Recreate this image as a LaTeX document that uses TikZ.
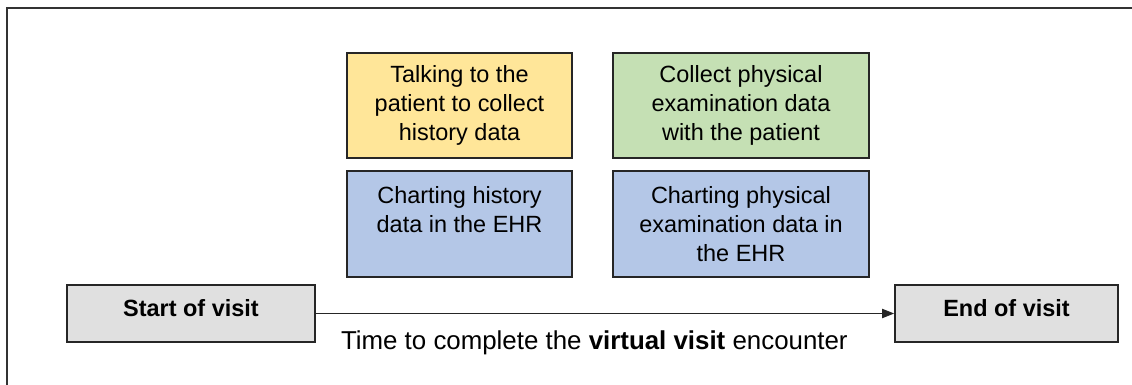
\documentclass[tikz,border=0pt]{standalone}
\usepackage{fontspec}
\setmainfont{Liberation Sans}
\usepackage{xcolor}
\usepackage{tikz}
\usetikzlibrary{arrows.meta}
\tikzset{
	taskbox/.style = {draw=black!85, line width=1.3pt, align=center, inner sep=0pt, text centered, font=\fontsize{17.6}{21.75}\selectfont},
	history/.style = {taskbox, fill=histyellow, minimum width=168.75pt, minimum height=78.75pt},
	physical/.style = {taskbox, fill=physgreen, minimum width=192pt, minimum height=78.75pt},
	charting/.style = {taskbox, fill=chartblue, minimum height=79.5pt},
	visit/.style = {taskbox, fill=visitgray, minimum height=42.75pt, text height=13pt, text depth=8.4pt, font=\fontsize{17.6}{21.75}\selectfont\bfseries},
}
\definecolor{histyellow}{HTML}{FFE699}
\definecolor{physgreen}{HTML}{C5E0B4}
\definecolor{chartblue}{HTML}{B4C7E7}
\definecolor{visitgray}{HTML}{E0E0E0}

\begin{document}
\begin{tikzpicture}[x=0.75pt, y=-0.75pt]
	\useasboundingbox (0,0) rectangle (1132,385);
	% outer frame (cut off at right and bottom)
	\draw[black!80, line width=1.3pt] (7,385) -- (7,8) -- (1132,8);

	\node[history] (talk) at (459.5,105.5) {Talking to the\\patient to collect\\history data};
	\node[charting, minimum width=168.75pt] (charthist) at (459.5,224) {Charting history\\data in the EHR\\\mbox{}};
	\node[physical] (exam) at (741,105.5) {Collect physical\\examination data\\with the patient};
	\node[charting, minimum width=192pt] (chartexam) at (741,224) {Charting physical\\examination data in\\the EHR};

	\node[visit, minimum width=186pt] (start) at (191,313.5) {Start of visit};
	\node[visit, minimum width=167.25pt] (end) at (1006.5,313.5) {End of visit};

	\draw[-{Triangle[length=9pt, width=7pt]}, line width=0.6pt, black!85] (start.east) -- (end.west)
		node[midway, below=9pt, xshift=-8pt, font=\fontsize{19.4}{23}\selectfont, black] (time) {Time to complete the \textbf{virtual visit} encounter};
\end{tikzpicture}
\end{document}
